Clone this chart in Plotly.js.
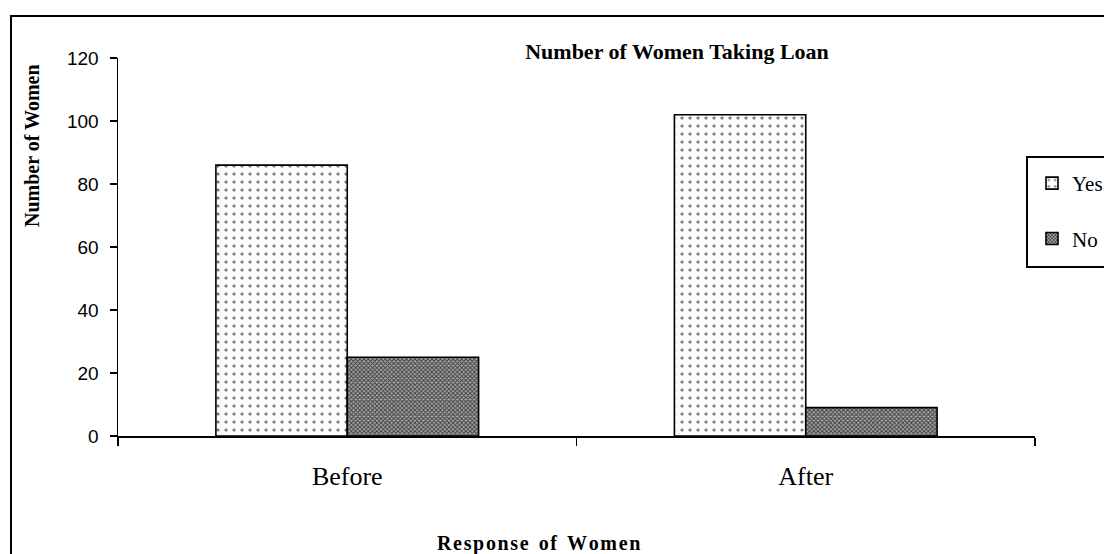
<!DOCTYPE html>
<html>
<head>
<meta charset="utf-8">
<script src="https://cdn.plot.ly/plotly-3.0.1.min.js"></script>
<style>
  html, body { margin: 0; padding: 0; background: #fff; }
  #chart { width: 1104px; height: 554px; }
</style>
</head>
<body>
<div id="chart"></div>
<script>
// Loan uptake among women, before and after
const categories = ["Before", "After"];
const yesValues = [86, 102];
const noValues = [25, 9];
const seriesNames = ["Yes", "No"];
const yTicks = [0, 20, 40, 60, 80, 100, 120];

const serif = "Liberation Serif, Times New Roman, serif";
const sans = "Liberation Sans, Arial, sans-serif";

const traces = [
  {
    type: "bar",
    name: seriesNames[0],
    x: categories,
    y: yesValues,
    legendgroup: "g1",
    marker: {
      color: "#fbfbfb",
      line: { color: "#000", width: 1.6 },
      pattern: { shape: ".", size: 8, solidity: 0.12, fgcolor: "#777", bgcolor: "#fbfbfb", fillmode: "replace" }
    },
    hoverinfo: "x+y+name"
  },
  {
    type: "bar",
    name: seriesNames[1],
    x: categories,
    y: noValues,
    legendgroup: "g2",
    marker: {
      color: "#787878",
      line: { color: "#000", width: 1.6 },
      pattern: { shape: "x", size: 3, solidity: 0.55, fgcolor: "#404040", bgcolor: "#a8a8a8", fillmode: "replace" }
    },
    hoverinfo: "x+y+name"
  }
];

const plotW = 917, plotH = 378;   // pixel size of the plotting area
const ml = 118, mt = 58;
const px = v => (v - ml) / plotW;           // pixel column -> paper x
const py = v => (mt + plotH - v) / plotH;   // pixel row -> paper y

const layout = {
  width: 1104,
  height: 554,
  margin: { l: ml, r: 1104 - ml - plotW, t: mt, b: 554 - mt - plotH, autoexpand: false },
  paper_bgcolor: "#fff",
  plot_bgcolor: "#fff",
  barmode: "group",
  bargap: 0.427,
  bargroupgap: 0,
  showlegend: true,
  title: {
    text: "<b>Number of Women Taking Loan</b>",
    font: { family: serif, size: 22, color: "#000" },
    xref: "paper",
    x: px(677),
    xanchor: "center",
    y: 1 - 51 / 554,
    yanchor: "middle"
  },
  xaxis: {
    type: "category",
    showline: true,
    linecolor: "#000",
    linewidth: 2,
    ticks: "outside",
    tickson: "boundaries",
    ticklen: 8,
    tickwidth: 1.5,
    tickcolor: "#000",
    ticklabelstandoff: 16,
    tickfont: { family: serif, size: 26, color: "#000" },
    showgrid: false,
    zeroline: false,
    fixedrange: true
  },
  yaxis: {
    range: [0, 120],
    tickvals: yTicks,
    ticktext: yTicks.map(String),
    showline: true,
    linecolor: "#000",
    linewidth: 1.5,
    ticks: "outside",
    ticklen: 7,
    tickwidth: 1.5,
    tickcolor: "#000",
    ticklabelstandoff: 7,
    tickfont: { family: sans, size: 19, color: "#000" },
    showgrid: false,
    zeroline: false,
    fixedrange: true
  },
  legend: {
    x: px(1032),
    xanchor: "left",
    y: py(163),
    yanchor: "top",
    borderwidth: 0,
    bgcolor: "rgba(0,0,0,0)",
    traceorder: "grouped",
    tracegroupgap: 25,
    itemwidth: 30,
    font: { family: serif, size: 21, color: "#000" }
  },
  annotations: [
    {
      text: "<b>Number of Women</b>",
      xref: "paper", yref: "paper",
      x: px(32),
      y: py(146),
      xanchor: "center", yanchor: "middle",
      textangle: -90,
      showarrow: false,
      font: { family: serif, size: 20, color: "#000" }
    },
    {
      text: "<b>R e s p o n s e&nbsp;&nbsp;o f&nbsp;&nbsp;W o m e n</b>".replace(/ /g, "\u200A"),
      xref: "paper", yref: "paper",
      x: px(538),
      y: py(543),
      xanchor: "center", yanchor: "middle",
      showarrow: false,
      font: { family: serif, size: 20, color: "#000" }
    }
  ],
  shapes: [
    {
      // outer frame around the whole chart
      type: "rect",
      xref: "paper", yref: "paper",
      x0: px(11), x1: px(1140),
      y0: py(600), y1: py(16),
      line: { color: "#000", width: 2 },
      fillcolor: "rgba(0,0,0,0)",
      layer: "below"
    },
    {
      // legend box
      type: "rect",
      xref: "paper", yref: "paper",
      x0: px(1027), x1: px(1140),
      y0: py(267), y1: py(157),
      line: { color: "#000", width: 2 },
      fillcolor: "#fff",
      layer: "above"
    }
  ]
};

Plotly.newPlot("chart", traces, layout, { displayModeBar: false, staticPlot: true });
</script>
</body>
</html>
